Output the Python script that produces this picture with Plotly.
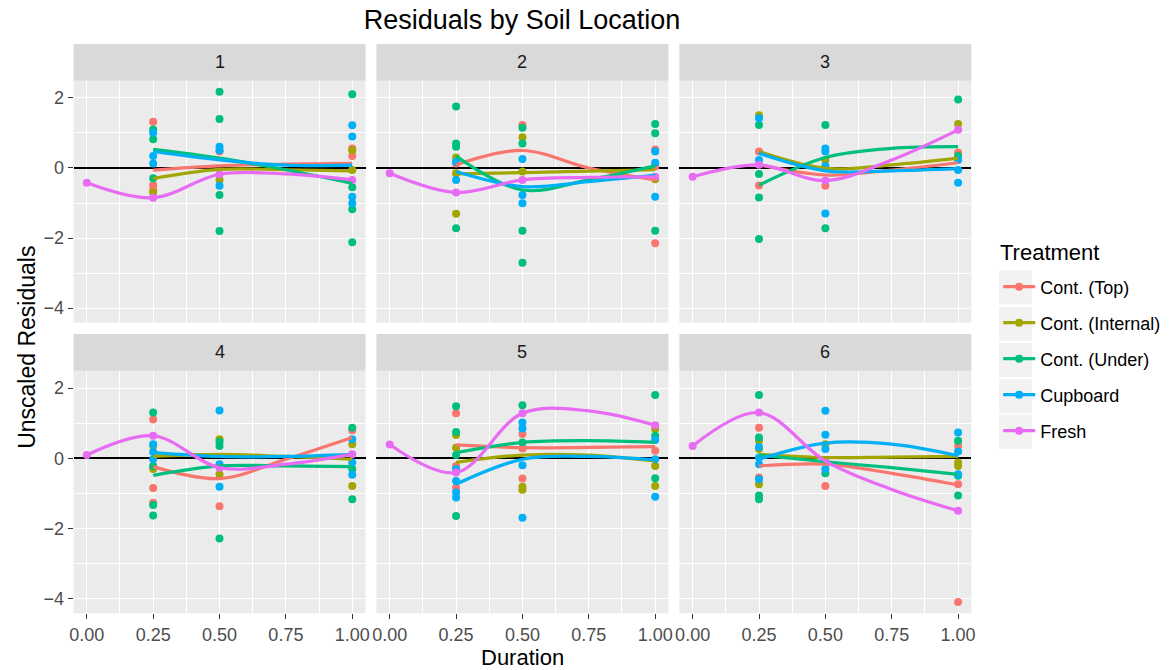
import plotly.graph_objects as go

W, H = 1175, 670
FONT = "Liberation Sans, Arial, Helvetica, sans-serif"

treatments = ["Cont. (Top)", "Cont. (Internal)", "Cont. (Under)", "Cupboard", "Fresh"]
colors = ["#F8766D", "#A3A500", "#00BF7D", "#00B0F6", "#E76BF3"]
panels = ["1", "2", "3", "4", "5", "6"]

x_ticks = [0.0, 0.25, 0.5, 0.75, 1.0]
y_ticks = [-4, -2, 0, 2]

# residual points per panel: treatment -> {duration: [values]}
pts_1 = {
    "Cont. (Top)": {0.25: [1.32, -0.49, -0.63], 0.5: [0.47], 1.0: [0.56, 0.34]},
    "Cont. (Internal)": {0.25: [-0.70], 0.5: [-0.34], 1.0: [0.51, -0.06]},
    "Cont. (Under)": {0.25: [1.10, 0.82, -0.29], 0.5: [2.18, 1.40, -0.77, -1.80], 1.0: [2.11, -0.55, -1.18, -2.12]},
    "Cupboard": {0.25: [1.01, 0.34, 0.13], 0.5: [0.61, 0.51, -0.51], 1.0: [1.22, 0.90, -0.82, -1.01]},
}
pts_2 = {
    "Cont. (Top)": {0.25: [0.13], 0.5: [1.23], 1.0: [0.53, 0.04, -2.15]},
    "Cont. (Internal)": {0.25: [0.30, -0.15, -1.31], 0.5: [0.88, -0.10], 1.0: [-0.32]},
    "Cont. (Under)": {0.25: [1.76, 0.70, 0.61, -1.72], 0.5: [1.15, 0.70, -1.79, -2.71], 1.0: [1.26, 0.99, -1.79]},
    "Cupboard": {0.25: [0.18, -0.34], 0.5: [0.26, -0.77, -1.01], 1.0: [0.47, 0.15, -0.82]},
}
pts_3 = {
    "Cont. (Top)": {0.25: [0.47, -0.50], 0.5: [-0.51], 1.0: [0.44]},
    "Cont. (Internal)": {0.25: [1.51], 0.5: [0.23], 1.0: [1.26]},
    "Cont. (Under)": {0.25: [1.23, -0.17, -0.84, -2.03], 0.5: [1.23, -1.72], 1.0: [1.96, 0.34]},
    "Cupboard": {0.25: [1.42, 0.23], 0.5: [0.56, 0.47, 0.06, -1.30], 1.0: [0.23, -0.06, -0.42]},
}
pts_4 = {
    "Cont. (Top)": {0.25: [1.10, -0.85, -1.27], 0.5: [-1.37], 1.0: [0.80]},
    "Cont. (Internal)": {0.25: [0.35, -0.31], 0.5: [0.54, -0.46], 1.0: [0.40, -0.79]},
    "Cont. (Under)": {0.25: [1.30, -0.22, -1.33, -1.63], 0.5: [0.47, 0.35, -2.29], 1.0: [0.87, -0.31, -1.17]},
    "Cupboard": {0.25: [0.40, 0.18, -0.03], 0.5: [1.36, -0.17, -0.81], 1.0: [0.54, -0.12, -0.47]},
}
pts_5 = {
    "Cont. (Top)": {0.25: [1.28, -0.22, -0.84], 0.5: [0.69, 0.28, -0.58], 1.0: [0.21]},
    "Cont. (Internal)": {0.25: [0.66, 0.30], 0.5: [-0.81, -0.90], 1.0: [0.83, -0.22, -0.79]},
    "Cont. (Under)": {0.25: [1.48, 0.75, 0.09, -1.65], 0.5: [1.51, 0.45], 1.0: [1.80, 0.64, -0.57]},
    "Cupboard": {0.25: [-0.31, -0.65, -0.98, -1.12], 0.5: [1.02, 0.85, -0.20, -1.70], 1.0: [0.52, -0.03, -1.10]},
}
pts_6 = {
    "Cont. (Top)": {0.25: [0.87, -0.55], 0.5: [-0.79], 1.0: [0.35, -0.74, -4.10]},
    "Cont. (Internal)": {0.25: [0.50, 0.26, -0.74], 0.5: [0.40], 1.0: [-0.12, -0.22]},
    "Cont. (Under)": {0.25: [1.80, 0.59, -1.06, -1.17], 0.5: [-0.43], 1.0: [0.50, -0.50, -1.06]},
    "Cupboard": {0.25: [0.32, 0.02, -0.17, -0.60], 0.5: [1.35, 0.67, 0.26, -0.31], 1.0: [0.73, 0.19, -0.46]},
}
points = [pts_1, pts_2, pts_3, pts_4, pts_5, pts_6]

# Fresh residuals at durations 0, 0.25, 0.5, 1.0
fresh_x = [0.0, 0.25, 0.5, 1.0]
fresh_pts = [
    [-0.42, -0.85, -0.18, -0.34],
    [-0.15, -0.70, -0.34, -0.25],
    [-0.25, 0.09, -0.36, 1.09],
    [0.09, 0.64, -0.27, 0.11],
    [0.39, -0.41, 1.28, 0.94],
    [0.35, 1.30, -0.08, -1.50],
]

# smoothed curves
curve_x = [0.25, 0.5, 0.75, 1.0]
fresh_curve_x = [0.0, 0.25, 0.5, 0.75, 1.0]
curves_1 = {"Cont. (Top)": [-0.06, 0.06, 0.11, 0.13], "Cont. (Internal)": [-0.30, -0.04, -0.05, -0.08],
            "Cont. (Under)": [0.53, 0.28, -0.05, -0.44], "Cupboard": [0.47, 0.23, 0.08, 0.08],
            "Fresh": [-0.42, -0.85, -0.18, -0.17, -0.34]}
curves_2 = {"Cont. (Top)": [0.09, 0.50, 0.0, -0.34], "Cont. (Internal)": [-0.17, -0.13, -0.09, -0.05],
            "Cont. (Under)": [0.34, -0.63, -0.34, 0.06], "Cupboard": [-0.10, -0.53, -0.39, -0.20],
            "Fresh": [-0.15, -0.70, -0.34, -0.27, -0.25]}
curves_3 = {"Cont. (Top)": [0.09, -0.20, -0.06, 0.15], "Cont. (Internal)": [0.47, -0.01, 0.09, 0.28],
            "Cont. (Under)": [-0.49, 0.30, 0.56, 0.61], "Cupboard": [0.42, -0.08, -0.08, -0.02],
            "Fresh": [-0.25, 0.09, -0.36, 0.23, 1.09]}
curves_4 = {"Cont. (Top)": [-0.24, -0.58, -0.03, 0.59], "Cont. (Internal)": [0.05, 0.11, 0.05, -0.03],
            "Cont. (Under)": [-0.49, -0.22, -0.22, -0.24], "Cupboard": [0.16, 0.05, 0.05, 0.11],
            "Fresh": [0.09, 0.64, -0.27, -0.17, 0.11]}
curves_5 = {"Cont. (Top)": [0.38, 0.30, 0.31, 0.33], "Cont. (Internal)": [-0.12, 0.09, 0.09, -0.08],
            "Cont. (Under)": [0.16, 0.45, 0.50, 0.45], "Cupboard": [-0.74, -0.03, 0.05, -0.05],
            "Fresh": [0.39, -0.41, 1.28, 1.35, 0.94]}
curves_6 = {"Cont. (Top)": [-0.22, -0.17, -0.43, -0.76], "Cont. (Internal)": [0.11, 0.02, 0.03, 0.05],
            "Cont. (Under)": [0.09, -0.10, -0.27, -0.46], "Cupboard": [-0.03, 0.43, 0.40, 0.07],
            "Fresh": [0.35, 1.30, -0.08, -0.89, -1.50]}
curves = [curves_1, curves_2, curves_3, curves_4, curves_5, curves_6]

# ---------------- layout geometry (pixels) ----------------
col_px = [(70, 364), (375, 669), (680, 974)]
row_px = [(80.7, 322.7), (370.7, 613.3)]
strip_px = [(44, 80.7), (334, 370.7)]
XR = [-0.05, 1.05]
YR = [-4.42, 2.494]


def fx(p):
    return p / W


def fy(p):
    return 1 - p / H


fig = go.Figure()
layout = dict(
    width=W, height=H, margin=dict(l=0, r=0, t=0, b=0),
    paper_bgcolor="white", plot_bgcolor="#EBEBEB",
    font=dict(family=FONT, color="#4D4D4D", size=18),
    showlegend=True,
)
shapes = []
annotations = []

for k in range(6):
    r, c = divmod(k, 3)
    idx = k + 1
    xa = "xaxis" if idx == 1 else f"xaxis{idx}"
    ya = "yaxis" if idx == 1 else f"yaxis{idx}"
    xref = "x" if idx == 1 else f"x{idx}"
    yref = "y" if idx == 1 else f"y{idx}"
    layout[xa] = dict(
        domain=[fx(col_px[c][0]), fx(col_px[c][1])], anchor=yref, range=XR,
        tickvals=x_ticks, ticktext=[f"{v:.2f}" for v in x_ticks],
        showgrid=True, gridcolor="white", gridwidth=1.1, zeroline=False, showline=False,
        ticks="outside" if r == 1 else "", ticklen=5, tickwidth=1.1, tickcolor="#333333",
        showticklabels=(r == 1), tickfont=dict(size=18, color="#4D4D4D", family=FONT),
        minor=dict(tickvals=[0.125, 0.375, 0.625, 0.875], showgrid=True, gridcolor="white", gridwidth=0.55),
        fixedrange=True,
    )
    layout[ya] = dict(
        domain=[fy(row_px[r][1]), fy(row_px[r][0])], anchor=xref, range=YR,
        tickvals=y_ticks,
        showgrid=True, gridcolor="white", gridwidth=1.1,
        zeroline=True, zerolinecolor="black", zerolinewidth=2, showline=False,
        ticks="outside" if c == 0 else "", ticklen=5, tickwidth=1.1, tickcolor="#333333",
        showticklabels=(c == 0), tickfont=dict(size=18, color="#4D4D4D", family=FONT),
        minor=dict(tickvals=[-3, -1, 1], showgrid=True, gridcolor="white", gridwidth=0.55),
        fixedrange=True,
    )
    # facet strip
    shapes.append(dict(type="rect", xref="paper", yref="paper",
                       x0=fx(col_px[c][0]), x1=fx(col_px[c][1]),
                       y0=fy(strip_px[r][1]), y1=fy(strip_px[r][0]),
                       fillcolor="#D9D9D9", line=dict(width=0), layer="below"))
    annotations.append(dict(text=panels[k], xref="paper", yref="paper",
                            x=fx((col_px[c][0] + col_px[c][1]) / 2),
                            y=fy((strip_px[r][0] + strip_px[r][1]) / 2),
                            xanchor="center", yanchor="middle", showarrow=False,
                            font=dict(size=18, color="#1A1A1A", family=FONT)))

    # points
    for t, col in zip(treatments[:4], colors[:4]):
        xs, ys = [], []
        for d, vals in points[k][t].items():
            xs += [d] * len(vals)
            ys += vals
        fig.add_trace(go.Scatter(x=xs, y=ys, mode="markers", xaxis=xref, yaxis=yref,
                                 marker=dict(color=col, size=8), showlegend=False,
                                 legendgroup=t, hoverinfo="skip"))
    fig.add_trace(go.Scatter(x=fresh_x, y=fresh_pts[k], mode="markers", xaxis=xref, yaxis=yref,
                             marker=dict(color=colors[4], size=8), showlegend=False,
                             legendgroup="Fresh", hoverinfo="skip"))
    # curves
    for t, col in zip(treatments, colors):
        cx = fresh_curve_x if t == "Fresh" else curve_x
        fig.add_trace(go.Scatter(x=cx, y=curves[k][t], mode="lines", xaxis=xref, yaxis=yref,
                                 line=dict(color=col, width=3.2, shape="spline", smoothing=1.0),
                                 showlegend=False, legendgroup=t, hoverinfo="skip"))

# legend entries
for t, col in zip(treatments, colors):
    fig.add_trace(go.Scatter(x=[None], y=[None], mode="lines+markers", name=t,
                             line=dict(color=col, width=3.2), marker=dict(color=col, size=8),
                             legendgroup=t, showlegend=True))

# legend key backgrounds
key_centers = [287.3, 324, 360, 396, 431.7]
for yc in key_centers:
    shapes.append(dict(type="rect", xref="paper", yref="paper",
                       x0=fx(1001.7), x1=fx(1035), y0=fy(yc + 17), y1=fy(yc - 17),
                       fillcolor="#F2F2F2", line=dict(width=0), layer="below"))

annotations.append(dict(text="Treatment", xref="paper", yref="paper", x=fx(1001), y=fy(253),
                        showarrow=False, xanchor="left", yanchor="middle",
                        font=dict(size=22, color="black", family=FONT)))
annotations.append(dict(text="Unscaled Residuals", xref="paper", yref="paper", x=fx(23), y=fy(347),
                        textangle=-90, showarrow=False, xanchor="center", yanchor="middle",
                        font=dict(size=23, color="black", family=FONT)))
annotations.append(dict(text="Duration", xref="paper", yref="paper", x=fx(522), y=fy(657),
                        showarrow=False, xanchor="center", yanchor="middle",
                        font=dict(size=22, color="black", family=FONT)))

layout["title"] = dict(text="Residuals by Soil Location", x=fx(522), y=fy(20), xanchor="center",
                       yanchor="middle", font=dict(size=27, color="black", family=FONT))
layout["legend"] = dict(
    x=fx(1001), y=fy(268.5), xanchor="left", yanchor="top", bgcolor="rgba(0,0,0,0)",
    font=dict(size=18, color="black", family=FONT), tracegroupgap=9.6, itemwidth=32,
)
layout["shapes"] = shapes
layout["annotations"] = annotations
fig.update_layout(**layout)

fig.write_html("out.html")
